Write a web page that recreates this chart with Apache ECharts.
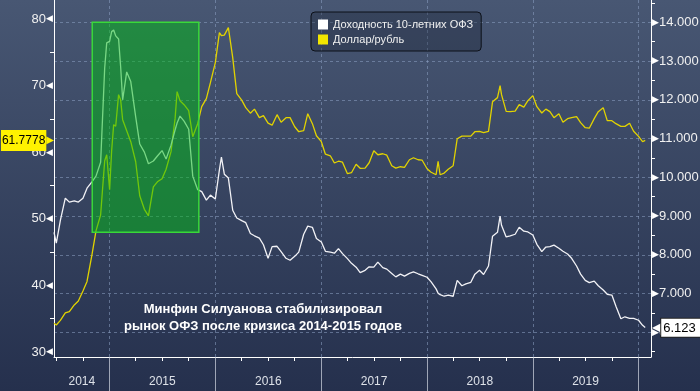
<!DOCTYPE html>
<html><head><meta charset="utf-8">
<script src="https://cdn.jsdelivr.net/npm/echarts@6/dist/echarts.min.js"></script>
<style>html,body{margin:0;padding:0;background:#27324f}#c{width:700px;height:391px}</style>
</head><body><div id="c"></div>
<script>
// ---------- DATA ----------
const dates = [
 '2014-06-23','2014-07-01','2014-07-15','2014-08-01','2014-08-15','2014-09-01','2014-09-15','2014-10-01','2014-10-15','2014-11-01','2014-11-15','2014-12-01','2014-12-15','2014-12-22',
 '2015-01-01','2015-01-08','2015-01-15','2015-01-22','2015-02-01','2015-02-08','2015-02-15','2015-03-01','2015-03-15','2015-04-01','2015-04-15','2015-05-01','2015-05-15','2015-06-01','2015-06-15','2015-07-01','2015-07-15','2015-08-01','2015-08-15','2015-08-22','2015-09-01','2015-09-15','2015-10-01','2015-10-15','2015-11-01','2015-11-15','2015-12-01','2015-12-15',
 '2016-01-01','2016-01-15','2016-01-22','2016-02-01','2016-02-15','2016-03-01','2016-03-15','2016-04-01','2016-04-15','2016-05-01','2016-05-15','2016-06-01','2016-06-15','2016-07-01','2016-07-15','2016-08-01','2016-08-15','2016-09-01','2016-09-15','2016-10-01','2016-10-15','2016-11-01','2016-11-15','2016-12-01','2016-12-15',
 '2017-01-01','2017-01-15','2017-02-01','2017-02-15','2017-03-01','2017-03-15','2017-04-01','2017-04-15','2017-05-01','2017-05-15','2017-06-01','2017-06-15','2017-07-01','2017-07-15','2017-08-01','2017-08-15','2017-09-01','2017-09-15','2017-10-01','2017-10-15','2017-11-01','2017-11-15','2017-12-01','2017-12-15',
 '2018-01-01','2018-01-15','2018-02-01','2018-02-08','2018-02-15','2018-03-01','2018-03-15','2018-04-01','2018-04-15','2018-05-01','2018-05-15','2018-06-01','2018-06-15','2018-07-01','2018-07-15','2018-08-01','2018-08-15','2018-09-01','2018-09-10','2018-09-15','2018-10-01','2018-10-15','2018-11-01','2018-11-15','2018-12-01','2018-12-15',
 '2019-01-01','2019-01-15','2019-02-01','2019-02-15','2019-03-01','2019-03-15','2019-04-01','2019-04-15','2019-05-01','2019-05-15','2019-06-01','2019-06-15','2019-07-01','2019-07-15','2019-08-01','2019-08-15','2019-09-01','2019-09-15','2019-10-01','2019-10-15','2019-11-01','2019-11-15','2019-12-01','2019-12-15',
 '2020-01-01','2020-01-15','2020-01-24'
];
// Доходность 10-летних ОФЗ, % (right axis)
const ofzYield = [
 8.58,8.30,8.89,9.46,9.36,9.39,9.36,9.46,9.72,9.88,10.03,10.39,12.82,13.47,
 13.51,13.76,13.80,13.65,13.57,12.86,12.00,12.72,12.47,11.56,10.86,10.65,10.35,10.42,10.55,10.69,10.47,10.83,11.22,11.40,11.58,11.45,11.24,10.03,9.68,9.63,9.41,9.54,
 9.44,10.19,10.52,10.08,9.98,9.15,8.95,8.88,8.83,8.55,8.49,8.43,8.26,7.91,8.21,8.22,8.08,7.91,7.86,7.96,8.07,8.53,8.74,8.71,8.42,
 8.33,8.09,8.07,8.04,8.16,8.03,7.90,7.78,7.68,7.54,7.60,7.69,7.68,7.81,7.67,7.63,7.52,7.43,7.50,7.45,7.52,7.56,7.51,7.47,
 7.42,7.30,7.12,7.01,6.97,6.93,6.96,6.93,7.34,7.20,7.25,7.29,7.50,7.60,7.49,7.71,8.48,8.58,9.00,8.76,8.46,8.49,8.53,8.71,8.61,8.59,
 8.51,8.27,8.08,8.20,8.21,8.25,8.17,8.09,8.02,7.91,7.71,7.50,7.34,7.28,7.32,7.20,7.09,6.98,6.96,6.67,6.35,6.40,6.36,6.36,
 6.31,6.18,6.123
];
// Доллар/рубль (left axis)
const usdRub = [
 34.32,34.06,34.74,35.86,36.06,37.07,37.67,39.17,40.60,44.59,48.20,50.60,58.72,59.62,
 54.36,60.23,64.14,63.91,68.65,67.89,64.89,63.23,61.58,58.57,53.46,51.43,50.45,54.81,55.56,56.02,57.44,60.08,65.04,69.10,67.74,67.14,66.24,62.33,64.29,66.84,68.05,70.45,
 73.46,77.97,77.52,77.59,78.72,74.21,68.80,67.82,66.69,65.86,66.47,65.19,65.49,64.36,64.06,65.64,64.51,65.19,65.19,63.83,63.08,63.23,65.79,64.29,62.48,
 61.58,59.70,59.47,58.38,58.65,58.50,56.77,56.92,58.20,57.59,57.62,58.42,60.23,59.62,59.77,59.55,57.97,57.62,57.82,57.74,58.87,59.17,58.87,58.80,
 57.52,56.99,56.62,58.62,56.62,56.87,57.44,57.97,62.03,62.41,62.41,62.41,63.08,63.13,62.93,63.13,67.59,68.20,70.00,68.65,66.14,66.09,66.17,67.14,66.77,67.74,
 68.50,66.84,65.89,66.47,66.09,65.19,65.79,64.51,65.04,65.19,65.34,64.44,63.68,63.61,65.04,66.09,66.69,64.74,64.74,64.29,63.88,63.88,64.36,63.16,
 62.38,61.58,61.7778
];
const seriesNames = ['Доходность 10-летних ОФЗ', 'Доллар/рубль'];
const crisisPeriod = ['2014-11-02', '2015-11-05'];
const crisisRange = [48.0, 79.5];
const yearLabelDates = ['2014-09-27','2015-07-02','2016-07-02','2017-07-02','2018-07-02','2019-07-02'];
const yearBoundaries = ['2015-01-01','2016-01-01','2017-01-01','2018-01-01','2019-01-01','2020-01-01'];
const quarterTicks = ['2014-07-01','2014-10-01',
 '2015-04-01','2015-07-01','2015-10-01','2016-04-01','2016-07-01','2016-10-01',
 '2017-04-01','2017-07-01','2017-10-01','2018-04-01','2018-07-01','2018-10-01',
 '2019-04-01','2019-07-01','2019-10-01'];
const leftTicks = [30,40,50,60,70,80];
const leftMinor = [35,45,55,65,75];
const rightTicks = [6,7,8,9,10,11,12,13,14];
const rightMinor = [5.5,6.5,7.5,8.5,9.5,10.5,11.5,12.5,13.5,14.5];
const annotation = 'Минфин Силуанова стабилизировал\nрынок ОФЗ после кризиса 2014-2015 годов';

// ---------- CHART ----------
const P = s => +echarts.time.parse(s);
const X_MIN = P('2014-06-23'), X_MAX = P('2020-02-13');
const FONT = 'Liberation Sans, Arial, sans-serif';
const gridDash = { color: 'rgba(140,160,195,0.55)', type: [3, 3], width: 1 };

const chart = echarts.init(document.getElementById('c'), null, { renderer: 'canvas' });
const ofzPts = dates.map((d, i) => [P(d), ofzYield[i]]);
const usdPts = dates.map((d, i) => [P(d), usdRub[i]]);
const lastOfz = ofzYield[ofzYield.length - 1];
const lastUsd = usdRub[usdRub.length - 1];
const hiddenLine = { color: 'rgba(0,0,0,0)', width: 1, opacity: 1 };

chart.setOption({
  animation: false,
  backgroundColor: new echarts.graphic.LinearGradient(0, 0, 0, 1, [
    { offset: 0, color: '#485773' }, { offset: 1, color: '#25304d' }
  ]),
  textStyle: { fontFamily: FONT },
  grid: { left: 54, right: 49, top: 0, bottom: 34, outerBoundsMode: 'none', containLabel: false },
  title: {
    text: annotation, left: 258, top: 296, textAlign: 'center',
    textStyle: { color: '#ffffff', fontSize: 13, fontWeight: 'bold', fontFamily: FONT, lineHeight: 17 }
  },
  legend: {
    orient: 'vertical', left: 311, top: 12, padding: [7, 8, 6, 7], itemGap: 4,
    itemWidth: 10, itemHeight: 10, icon: 'rect',
    backgroundColor: 'rgba(25,33,52,0.35)', borderColor: '#0c1018', borderWidth: 1, borderRadius: 4,
    textStyle: { color: '#f0f0f0', fontSize: 11, fontFamily: FONT },
    data: seriesNames
  },
  xAxis: [
    {
      type: 'value', min: X_MIN, max: X_MAX, position: 'bottom', scale: true,
      axisLine: { show: true, lineStyle: { color: '#ffffff', width: 1 } },
      axisTick: { show: true, length: 4, customValues: quarterTicks.map(P), lineStyle: { color: '#ffffff' } },
      axisLabel: {
        show: true, customValues: yearLabelDates.map(P), margin: 19,
        color: '#dde1e8', fontSize: 12, fontFamily: FONT,
        formatter: v => String(new Date(v).getFullYear())
      },
      splitLine: { show: false }
    },
    {
      type: 'value', min: X_MIN, max: X_MAX, position: 'bottom', scale: true,
      axisLine: { show: false },
      axisTick: { show: true, length: 36, customValues: yearBoundaries.map(P), lineStyle: { color: 'rgba(200,206,218,0.75)', width: 1 } },
      axisLabel: { show: false },
      splitLine: { show: true, customValues: yearBoundaries.map(P), lineStyle: gridDash }
    }
  ],
  yAxis: [
    {
      type: 'value', position: 'left', min: 29.25, max: 82.86,
      axisLine: { show: true, lineStyle: { color: '#ffffff', width: 1 } },
      axisTick: { show: true, length: 4, customValues: leftMinor, lineStyle: { color: '#ffffff' } },
      axisLabel: {
        customValues: leftTicks, margin: 1, color: '#f0f0f0',
        formatter: v => '{v|' + v + '}{t|◀}',
        rich: { v: { color: '#f0f0f0', fontSize: 13, fontFamily: FONT }, t: { color: '#ffffff', fontSize: 9, fontFamily: 'DejaVu Sans' } }
      },
      splitLine: { show: false }
    },
    {
      type: 'value', position: 'right', min: 5.362, max: 14.576,
      axisLine: { show: true, lineStyle: { color: '#ffffff', width: 1 } },
      axisTick: { show: true, length: 0, customValues: rightTicks, lineStyle: { color: '#ffffff' } },
      axisLabel: {
        customValues: rightTicks, margin: 1, color: '#f0f0f0',
        formatter: v => '{t|▶}{v|' + v.toFixed(3) + '}',
        rich: { v: { color: '#f0f0f0', fontSize: 13, fontFamily: FONT }, t: { color: '#ffffff', fontSize: 9, fontFamily: 'DejaVu Sans' } }
      },
      splitLine: { show: true, customValues: rightTicks, lineStyle: gridDash }
    },
    {
      type: 'value', position: 'right', min: 5.362, max: 14.576,
      axisLine: { show: false },
      axisTick: { show: true, length: 4, customValues: rightMinor, lineStyle: { color: '#ffffff' } },
      axisLabel: { show: false },
      splitLine: { show: false }
    }
  ],
  series: [
    {
      name: seriesNames[0], type: 'line', xAxisIndex: 0, yAxisIndex: 1, data: ofzPts,
      showSymbol: false, symbol: 'none', z: 3, clip: false,
      lineStyle: { color: '#f2f2f6', width: 1.3 }, itemStyle: { color: '#ffffff' },
      markLine: {
        silent: true, symbol: ['none', 'none'], animation: false, z: 20,
        lineStyle: hiddenLine,
        label: {
          show: true, position: 'end', distance: 1, opacity: 1,
          formatter: '{t|◀}{v|' + lastOfz.toFixed(3) + '}',
          rich: {
            t: { color: '#ffffff', fontSize: 12, fontFamily: 'DejaVu Sans' },
            v: { color: '#000000', backgroundColor: '#ffffff', borderColor: '#222', borderWidth: 1, padding: [3, 10, 2, 2], fontSize: 13, fontFamily: FONT }
          }
        },
        data: [{ yAxis: lastOfz }]
      }
    },
    {
      name: seriesNames[1], type: 'line', xAxisIndex: 0, yAxisIndex: 0, data: usdPts,
      showSymbol: false, symbol: 'none', z: 2, clip: false,
      lineStyle: { color: '#e2d300', width: 1.3 }, itemStyle: { color: '#f2e600' },
      markArea: {
        silent: true, z: 10,
        itemStyle: { color: 'rgba(0,190,20,0.5)', borderColor: '#39d839', borderWidth: 1.5 },
        data: [[{ xAxis: P(crisisPeriod[0]), yAxis: crisisRange[0] }, { xAxis: P(crisisPeriod[1]), yAxis: crisisRange[1] }]]
      },
      markLine: {
        silent: true, symbol: ['none', 'none'], animation: false, z: 20,
        lineStyle: hiddenLine,
        label: {
          show: true, position: 'start', distance: 0, opacity: 1,
          formatter: '{v|' + lastUsd + '}{t|▶}',
          rich: {
            v: { color: '#000000', backgroundColor: '#fff200', padding: [5, 1, 4, 1], fontSize: 12, fontFamily: FONT },
            t: { color: '#fff200', fontSize: 10, fontFamily: 'DejaVu Sans' }
          }
        },
        data: [{ yAxis: lastUsd }]
      }
    }
  ]
});
</script>
</body></html>
